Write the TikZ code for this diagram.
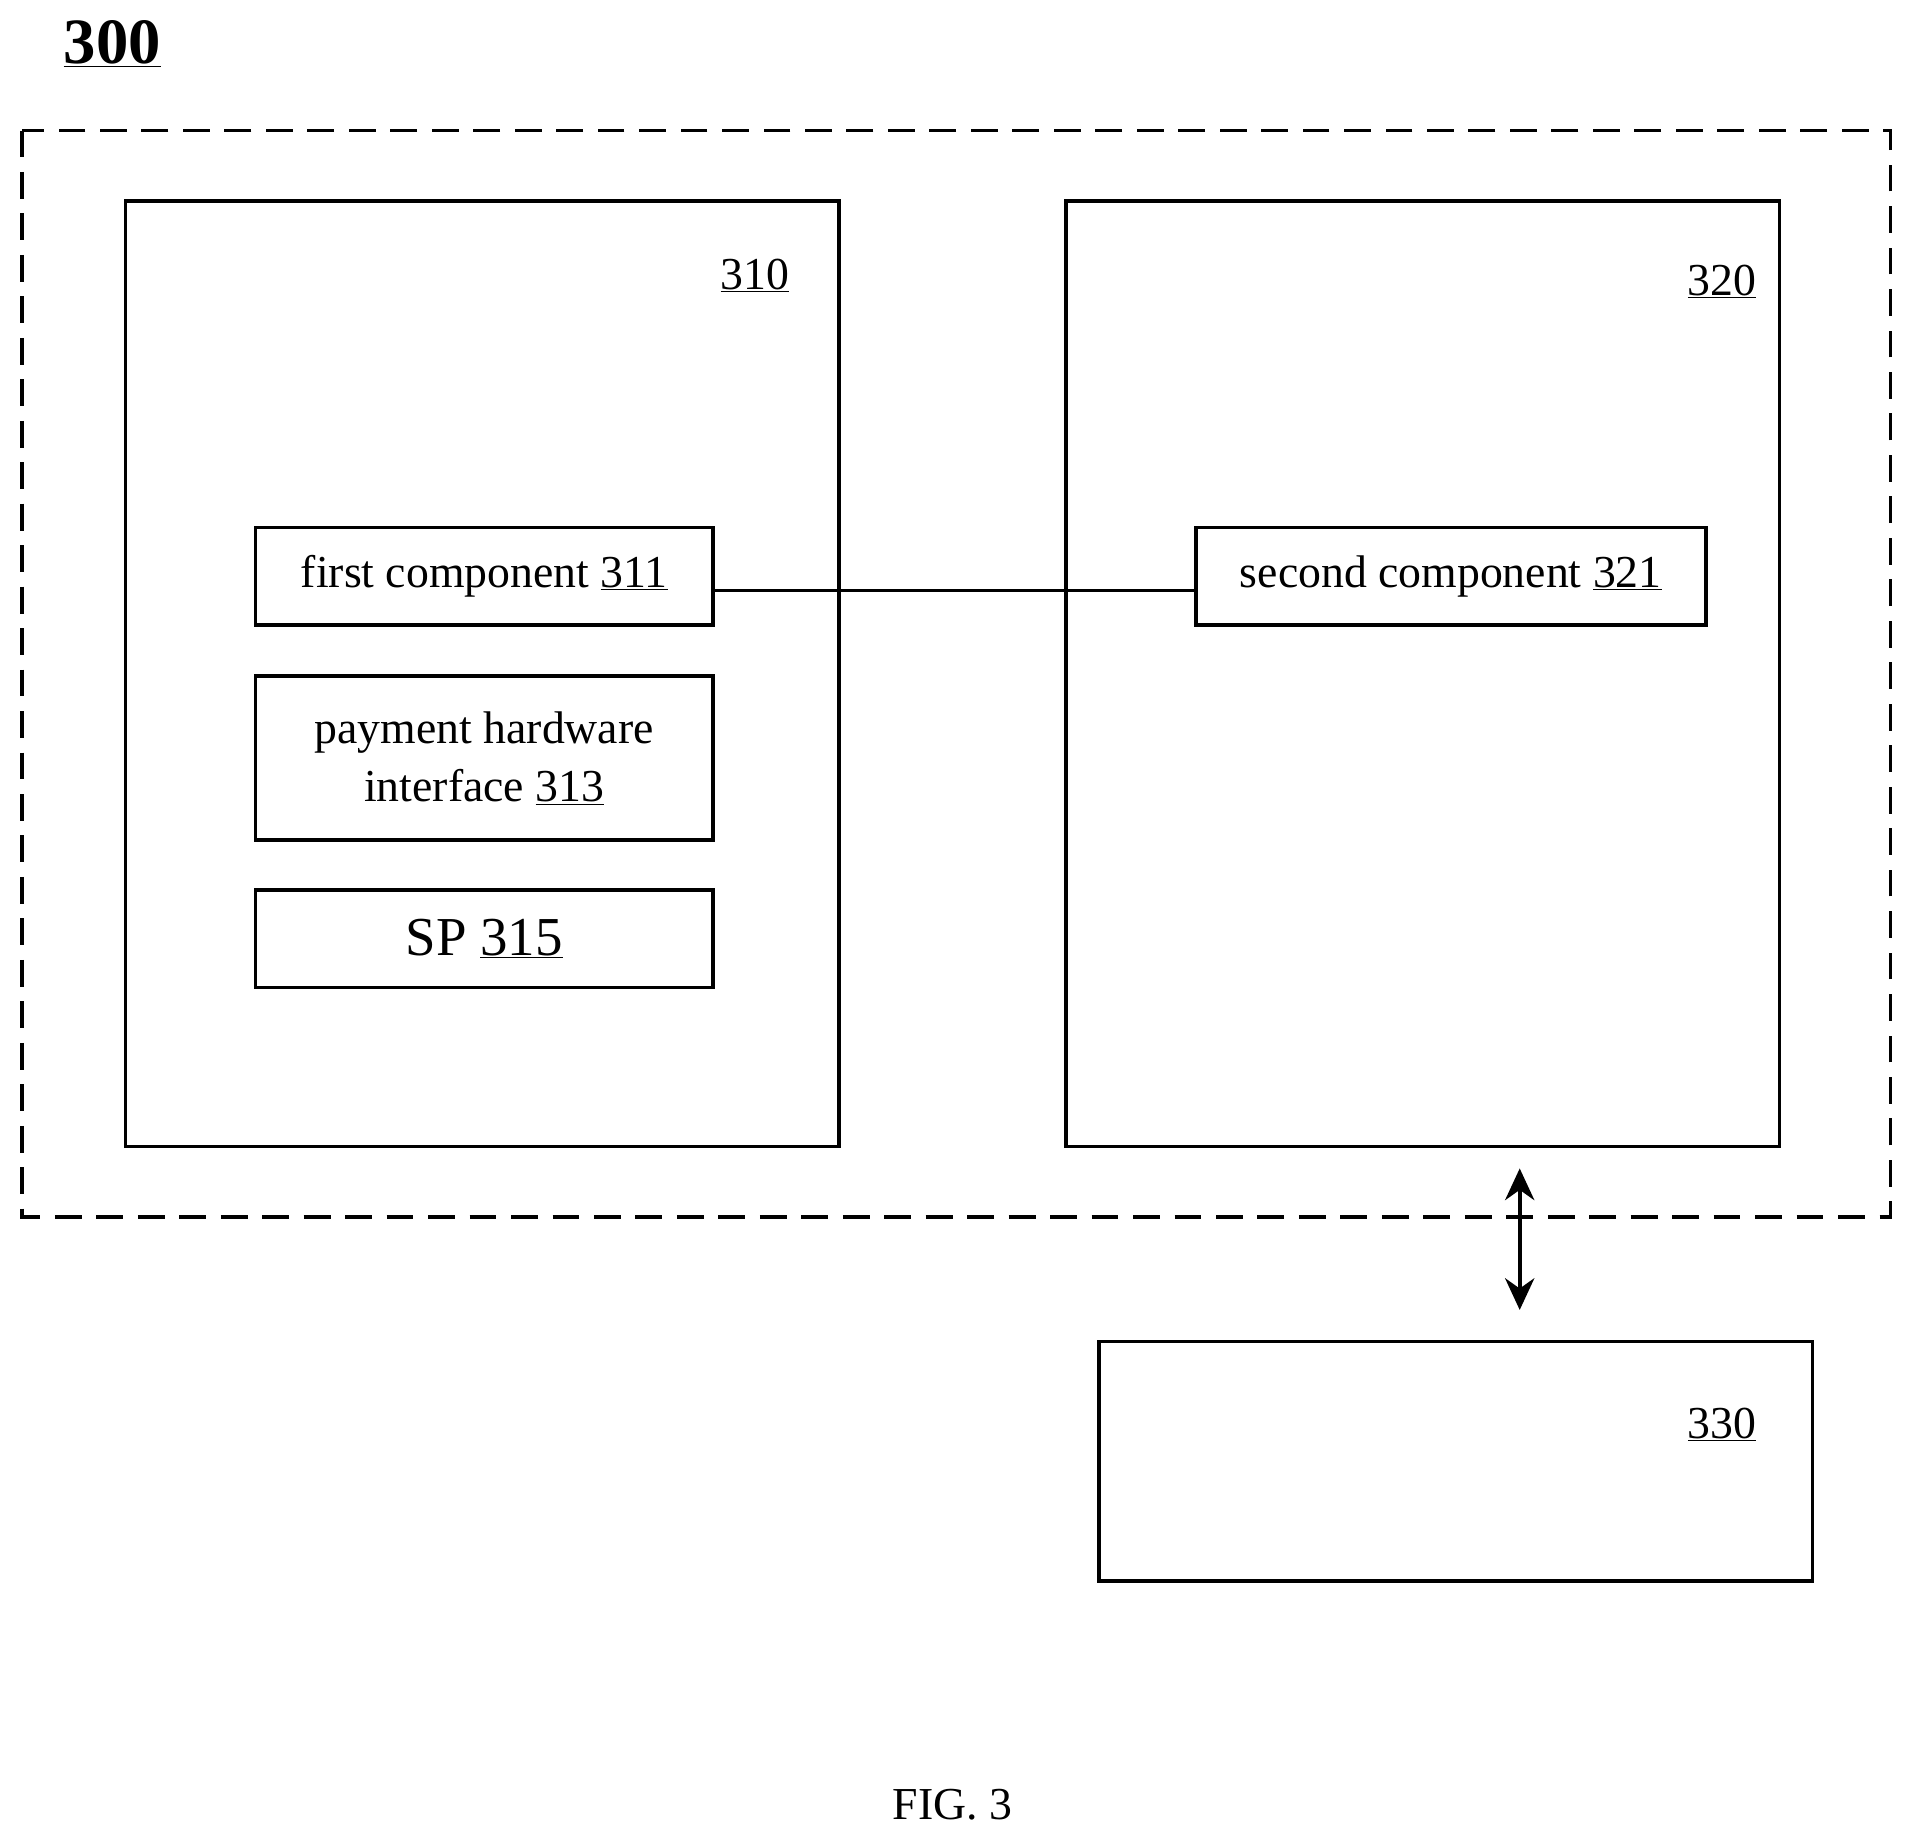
\documentclass[tikz,border=0pt]{standalone}
\usepackage{fontspec}
\setmainfont{Liberation Serif}
\usetikzlibrary{arrows.meta}
\begin{document}
\begin{tikzpicture}[x=1pt,y=-1pt,
  box/.style={draw,line width=3pt},
  lbl/.style={font=\fontsize{37.5}{48}\selectfont,inner sep=0pt},
  conn/.style={line width=2.4pt}]
\useasboundingbox (0,0) rectangle (1566,1510);
\node[font=\fontsize{53}{60}\selectfont\bfseries,inner sep=0pt] (t300) at (92,36) {\underline{300}};
\draw[box,dash pattern=on 22pt off 12pt] (18,107) rectangle (1550,998);
\draw[box] (103,165) rectangle (688,940);
\node[lbl] (l310) at (619,226) {\underline{310}};
\draw[box] (874,165) rectangle (1459,940);
\node[lbl] (l320) at (1412,231) {\underline{320}};
\node[box,lbl,minimum width=375pt,minimum height=80pt,anchor=north west] (c311) at (208,431) {first component \underline{311}};
\node[box,lbl,minimum width=375pt,minimum height=134pt,anchor=north west,align=center] (c313) at (208,553) {payment hardware\\interface \underline{313}};
\node[box,font=\fontsize{45}{52}\selectfont,inner sep=0pt,minimum width=375pt,minimum height=80pt,anchor=north west] (c315) at (208,728) {SP \underline{315}};
\node[box,lbl,minimum width=418pt,minimum height=80pt,anchor=north west] (c321) at (979,431) {second component \underline{321}};
\coordinate (a) at (c311.east |- 0,484);
\coordinate (b) at (c321.west |- 0,484);
\draw[conn] (a) -- (b);
\coordinate (u) at (1246,958);
\coordinate (d) at (1246,1074);
\draw[line width=3pt,{Stealth[length=26pt,width=24pt]}-{Stealth[length=26pt,width=24pt]}] (u) -- (d);
\draw[box] (901,1100) rectangle (1486,1296);
\node[lbl] (l330) at (1412,1168) {\underline{330}};
\node[lbl] (fig) at (781,1480) {FIG. 3};
\end{tikzpicture}
\end{document}
